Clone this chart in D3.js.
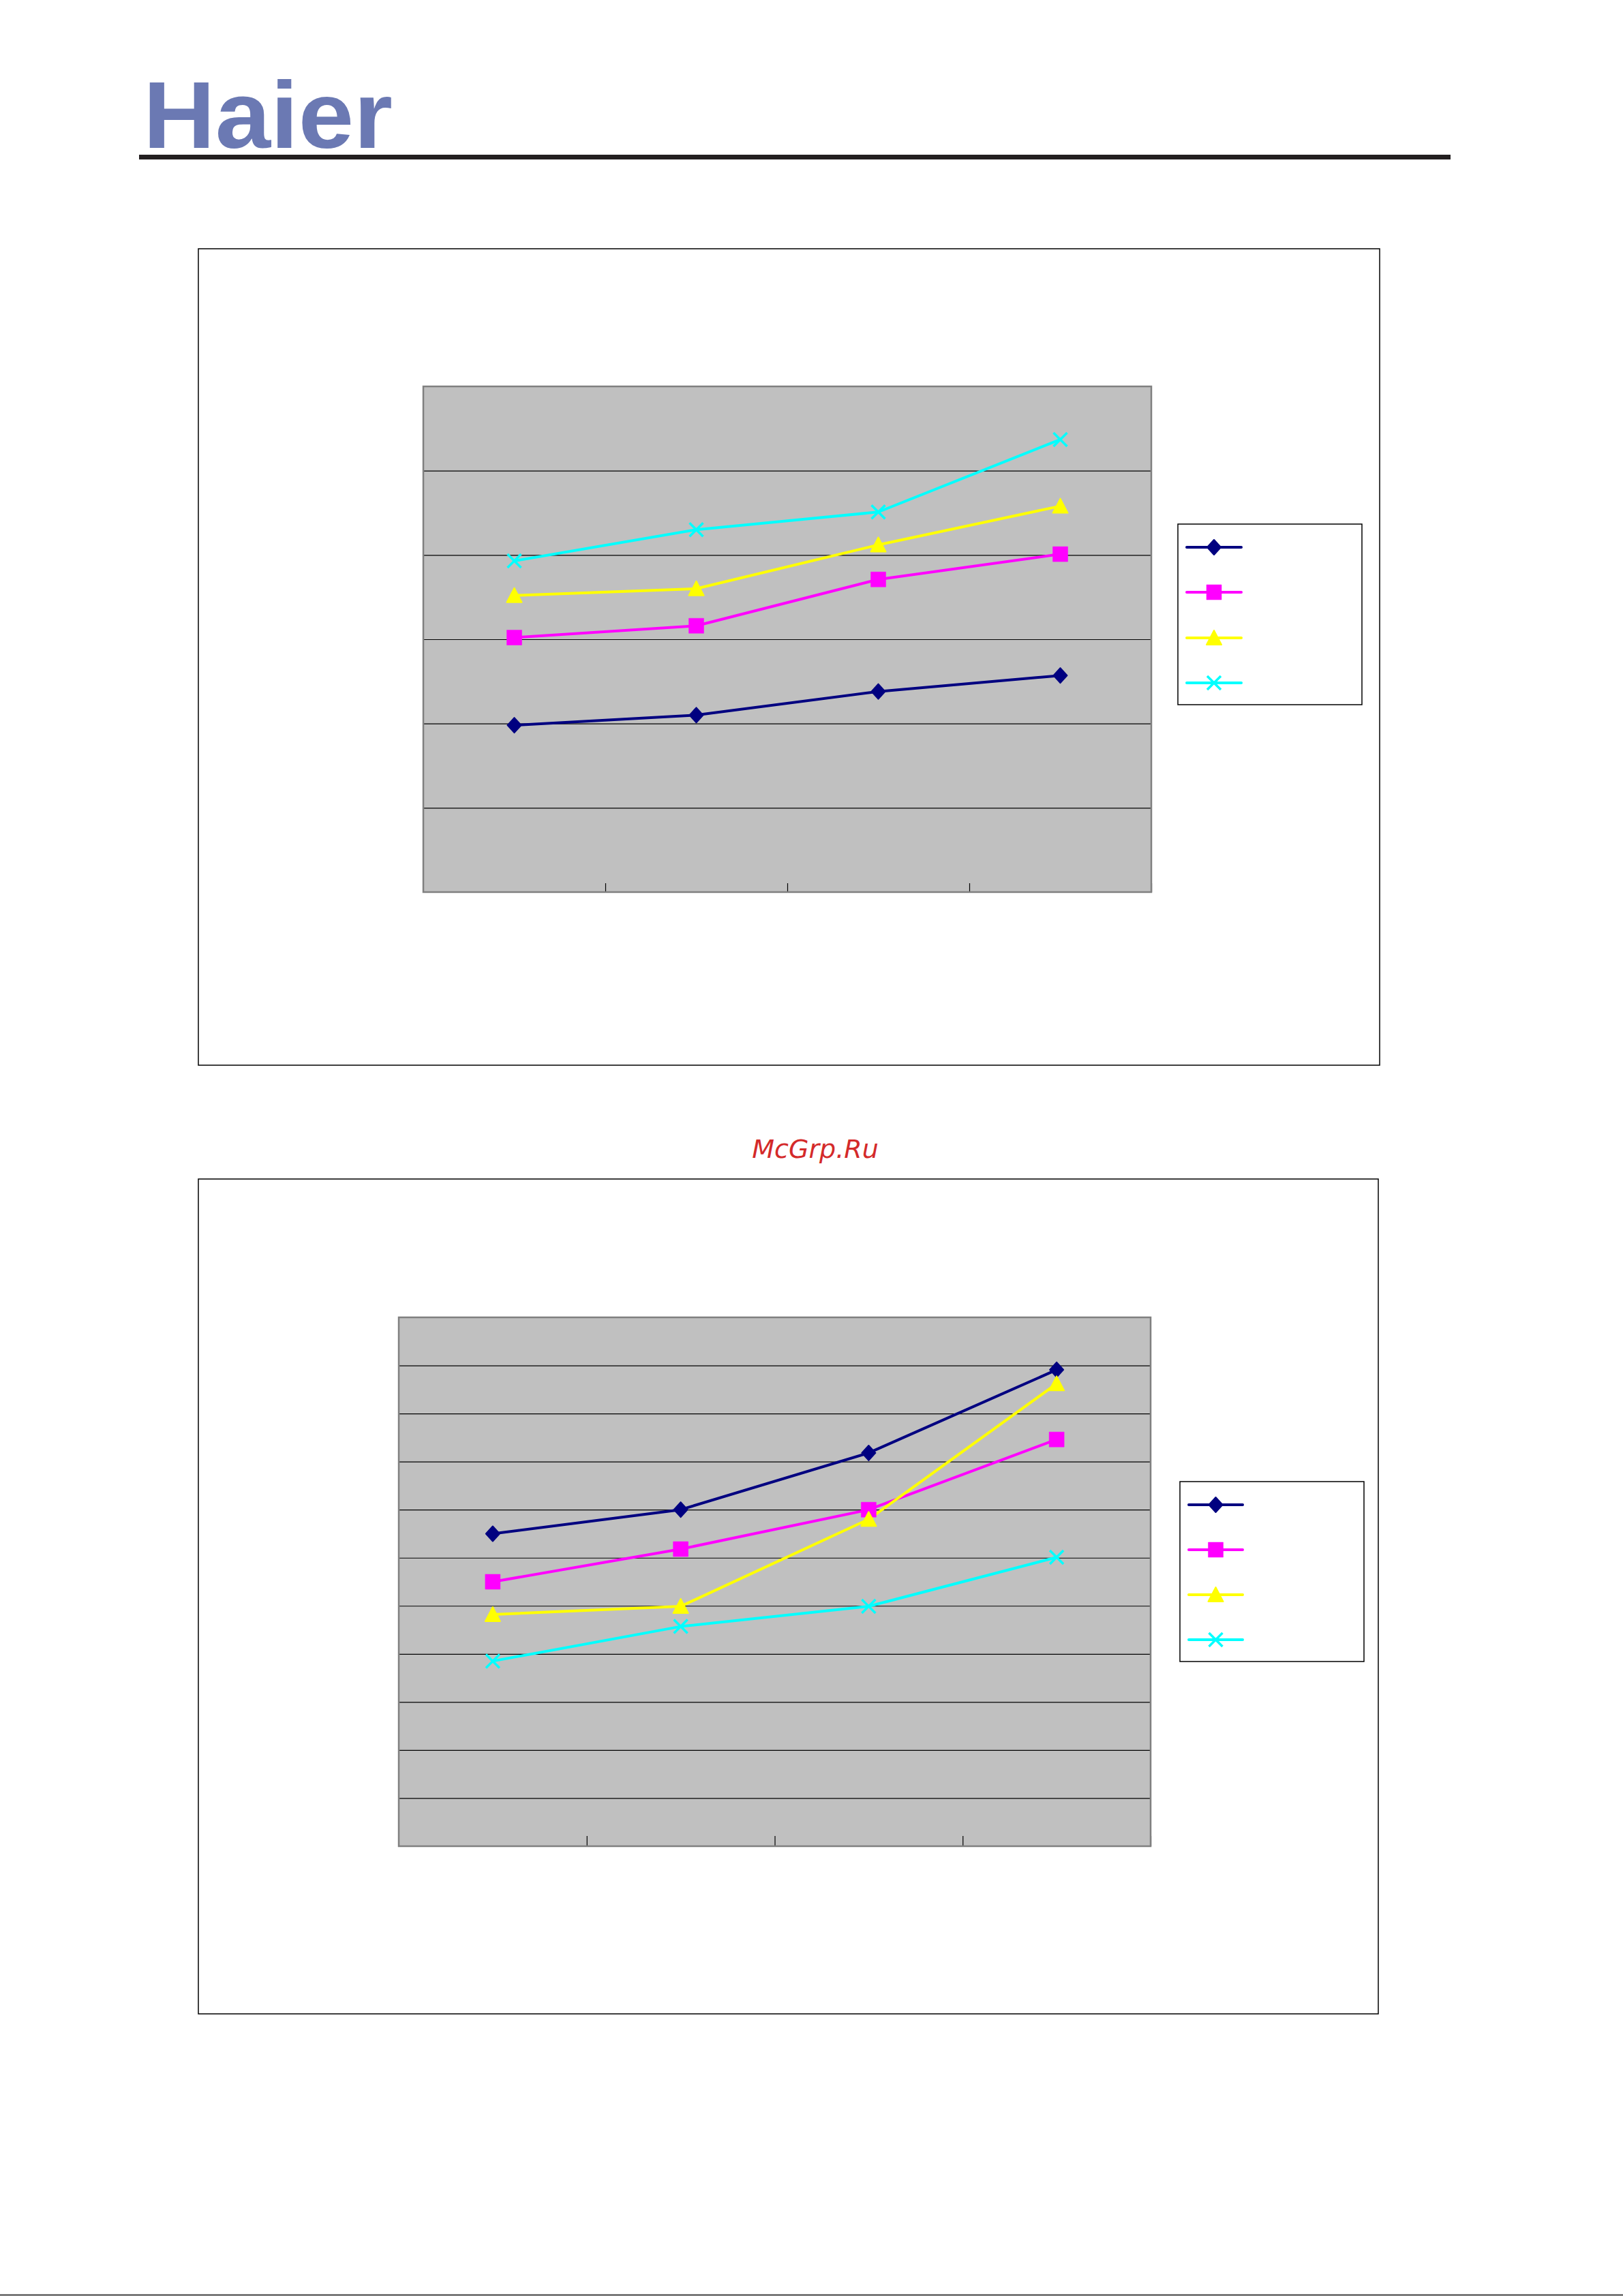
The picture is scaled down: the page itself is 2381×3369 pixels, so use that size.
<!DOCTYPE html>
<html><head><meta charset="utf-8">
<script src="https://cdn.jsdelivr.net/npm/d3@7"></script>
<style>html,body{margin:0;padding:0;background:#fff;}svg{display:block;}</style>
</head><body>
<script>
// ---- data (no labels are printed in the reference; values are in gridline units) ----
const categories = ["1", "2", "3", "4"];
const seriesNames = ["S1", "S2", "S3", "S4"];
const seriesColors = ["#000080", "#ff00ff", "#ffff00", "#00ffff"];
const seriesMarkers = ["diamond", "square", "triangle", "x"];

const chart1Navy    = [1.98, 2.10, 2.38, 2.57];
const chart1Magenta = [3.02, 3.16, 3.71, 4.01];
const chart1Yellow  = [3.52, 3.60, 4.12, 4.58];
const chart1Cyan    = [3.93, 4.30, 4.51, 5.37];
const chart1Ticks   = [0, 1, 2, 3, 4, 5, 6];

const chart2Navy    = [6.50, 7.00, 8.18, 9.91];
const chart2Magenta = [5.50, 6.18, 7.00, 8.46];
const chart2Yellow  = [4.82, 4.99, 6.80, 9.62];
const chart2Cyan    = [3.85, 4.57, 4.99, 6.01];
const chart2Ticks   = [0, 1, 2, 3, 4, 5, 6, 7, 8, 9, 10, 11];

const W = 2381, H = 3369;
const svg = d3.select("body").append("svg").attr("width", W).attr("height", H);
svg.append("rect").attr("width", W).attr("height", H).attr("fill", "#fff");

// ---- header ----
svg.append("text").attr("x", 210).attr("y", 217)
  .attr("font-family", "Liberation Sans Narrow, Liberation Sans, Arial, sans-serif").attr("font-weight", "bold")
  .attr("font-size", 140).attr("fill", "#6b79b3")
  .attr("textLength", 366).attr("lengthAdjust", "spacingAndGlyphs").text("Haier");
svg.append("rect").attr("x", 204).attr("y", 227).attr("width", 1924).attr("height", 7).attr("fill", "#231f20");

// watermark
svg.append("text").attr("x", 1196).attr("y", 1699).attr("text-anchor", "middle")
  .attr("font-family", "DejaVu Sans, sans-serif").attr("font-style", "italic")
  .attr("font-size", 38).attr("fill", "#d42a2a").text("McGrp.Ru");

// bottom rule
svg.append("line").attr("x1", 0).attr("x2", W).attr("y1", 3367.5).attr("y2", 3367.5)
  .attr("stroke", "#444").attr("stroke-width", 2);

function markerPath(type) {
  if (type === "diamond") return "M0,-11L10,0L0,11L-10,0Z";
  if (type === "square") return "M-11,-11H11V11H-11Z";
  if (type === "triangle") return "M0,-11L11,10L-11,10Z";
  return "M-10,-10L10,10M-10,10L10,-10";
}
function drawMarker(g, type, color, x, y) {
  const p = g.append("path").attr("d", markerPath(type))
    .attr("transform", `translate(${x},${y})`);
  if (type === "x") p.attr("fill", "none").attr("stroke", color).attr("stroke-width", 3.5);
  else p.attr("fill", color).attr("stroke", color)
    .attr("stroke-width", type === "square" ? 0.5 : 2).attr("stroke-linejoin", "round");
}

function drawChart(cfg) {
  const g = svg.append("g");
  g.append("rect").attr("x", cfg.outer[0]).attr("y", cfg.outer[1])
    .attr("width", cfg.outer[2] - cfg.outer[0]).attr("height", cfg.outer[3] - cfg.outer[1])
    .attr("fill", "#fff").attr("stroke", "#000").attr("stroke-width", 1.5);

  const [px0, py0, px1, py1] = cfg.plot;
  const x = d3.scaleBand().domain(categories).range([px0, px1]);
  const xt = d3.scaleLinear().domain([0, categories.length]).range([px0, px1]);
  const y = d3.scaleLinear().domain([cfg.ticks[0], cfg.ticks[cfg.ticks.length - 1]]).range([py1, py0]);

  g.append("rect").attr("x", px0).attr("y", py0).attr("width", px1 - px0).attr("height", py1 - py0)
    .attr("fill", "#c0c0c0");

  const grid = g.append("g").attr("transform", `translate(${px0},0)`)
    .call(d3.axisLeft(y).tickValues(cfg.ticks).tickSize(-(px1 - px0)).tickFormat(""));
  grid.select(".domain").remove();
  grid.selectAll("line").attr("stroke", "#000").attr("stroke-width", 1.2);

  const xa = g.append("g").attr("transform", `translate(0,${py1})`)
    .call(d3.axisBottom(xt).tickValues(d3.range(1, categories.length + 1)).tickSize(-cfg.tickLen).tickFormat(""));
  xa.select(".domain").remove();
  xa.selectAll("line").attr("stroke", "#000").attr("stroke-width", 1.2);

  g.append("rect").attr("x", px0).attr("y", py0).attr("width", px1 - px0).attr("height", py1 - py0)
    .attr("fill", "none").attr("stroke", "#808080").attr("stroke-width", 2.5);

  const line = d3.line().x((d, i) => x(categories[i]) + x.bandwidth() / 2).y(d => y(d));
  cfg.series.forEach((vals, si) => {
    g.append("path").datum(vals).attr("d", line).attr("fill", "none")
      .attr("stroke", seriesColors[si]).attr("stroke-width", 4).attr("stroke-linejoin", "round");
  });
  cfg.series.forEach((vals, si) => {
    vals.forEach((v, i) => drawMarker(g, seriesMarkers[si], seriesColors[si], x(categories[i]) + x.bandwidth() / 2, y(v)));
  });

  const [lx0, ly0, lx1, ly1] = cfg.legend;
  g.append("rect").attr("x", lx0).attr("y", ly0).attr("width", lx1 - lx0).attr("height", ly1 - ly0)
    .attr("fill", "#fff").attr("stroke", "#000").attr("stroke-width", 1.5);
  seriesNames.forEach((nm, si) => {
    const ry = cfg.legendRows[si];
    g.append("line").attr("x1", cfg.legendLine[0]).attr("x2", cfg.legendLine[1]).attr("y1", ry).attr("y2", ry)
      .attr("stroke", seriesColors[si]).attr("stroke-width", 4).attr("stroke-linecap", "round");
    drawMarker(g, seriesMarkers[si], seriesColors[si], (cfg.legendLine[0] + cfg.legendLine[1]) / 2, ry);
  });
}

drawChart({
  outer: [291, 365, 2024, 1563],
  plot: [621, 567, 1689, 1309],
  ticks: chart1Ticks,
  tickLen: 13,
  series: [chart1Navy, chart1Magenta, chart1Yellow, chart1Cyan],
  legend: [1728, 769, 1998, 1034],
  legendLine: [1741, 1821],
  legendRows: [803, 869, 936, 1002]
});

drawChart({
  outer: [291, 1730, 2022, 2955],
  plot: [585, 1933, 1688, 2709],
  ticks: chart2Ticks,
  tickLen: 15,
  series: [chart2Navy, chart2Magenta, chart2Yellow, chart2Cyan],
  legend: [1731, 2174, 2001, 2438],
  legendLine: [1744, 1823],
  legendRows: [2208, 2274, 2340, 2406]
});
</script>
</body></html>
